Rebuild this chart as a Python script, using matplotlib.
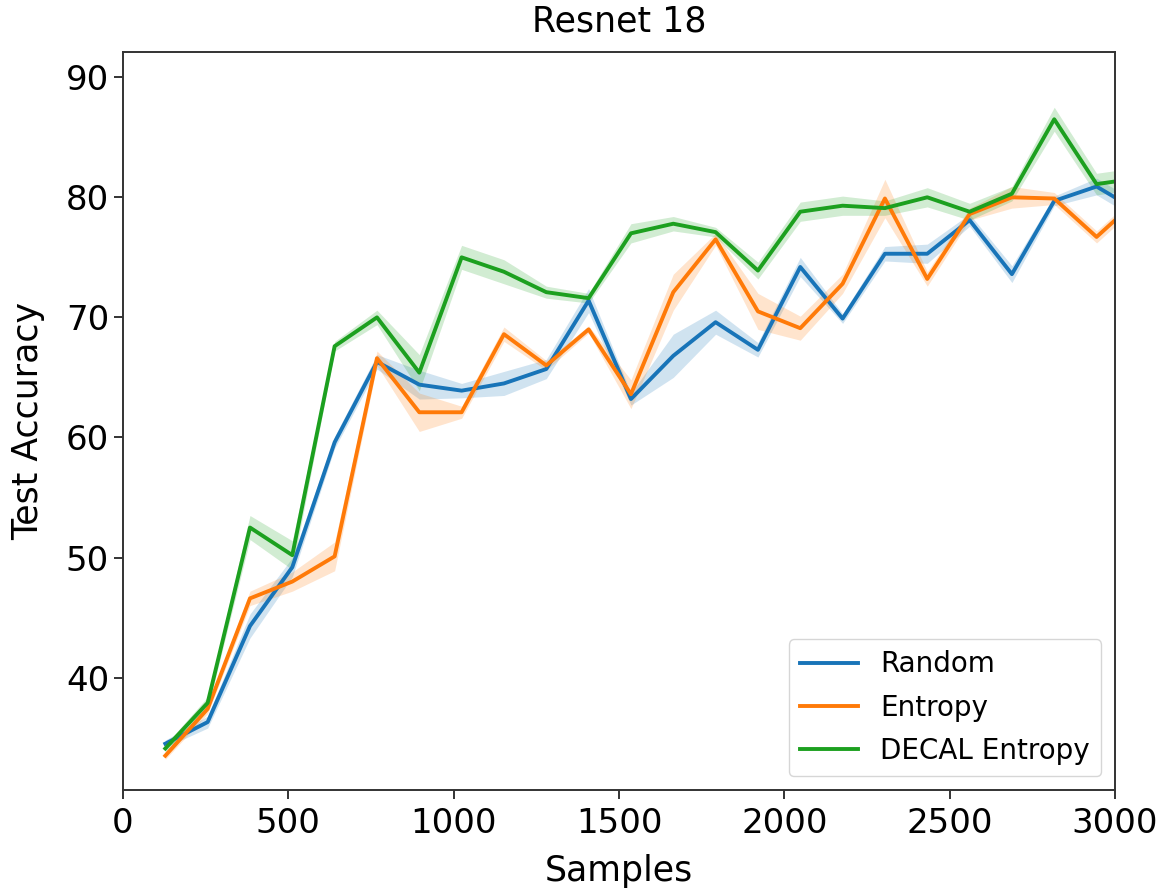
import matplotlib
matplotlib.use("Agg")
import matplotlib.pyplot as plt
import numpy as np

samples = [128, 256, 384, 512, 640, 768, 896, 1024, 1152, 1280, 1408, 1536,
           1664, 1792, 1920, 2048, 2176, 2304, 2432, 2560, 2688, 2816, 2944, 3072]

random_mean = [34.5, 36.3, 44.3, 49.2, 59.6, 66.3, 64.4, 63.9, 64.5, 65.7, 71.4, 63.2,
               66.8, 69.6, 67.3, 74.2, 69.9, 75.3, 75.3, 78.1, 73.6, 79.7, 80.9, 78.8]
random_err = [0.3, 0.5, 1.0, 0.8, 0.5, 0.6, 1.2, 0.6, 1.0, 0.8, 1.0, 0.5,
              1.8, 1.0, 0.6, 0.8, 0.4, 0.6, 0.8, 0.5, 0.7, 0.4, 0.7, 0.7]

entropy_mean = [33.5, 37.4, 46.6, 48.0, 50.1, 66.6, 62.1, 62.1, 68.6, 66.0, 69.0, 63.6,
                72.1, 76.5, 70.5, 69.1, 72.8, 79.9, 73.2, 78.6, 80.0, 79.9, 76.7, 79.9]
entropy_err = [0.3, 0.4, 0.6, 0.8, 1.2, 0.6, 1.6, 0.5, 0.6, 0.4, 0.3, 1.2,
               1.5, 0.5, 1.5, 1.0, 0.8, 1.6, 0.6, 0.5, 0.9, 0.5, 0.5, 0.5]

decal_mean = [34.1, 37.9, 52.5, 50.2, 67.6, 70.0, 65.4, 75.0, 73.8, 72.1, 71.6, 77.0,
              77.8, 77.1, 73.9, 78.8, 79.3, 79.1, 80.0, 78.8, 80.3, 86.5, 81.1, 81.6]
decal_err = [0.3, 0.5, 1.0, 1.2, 0.4, 0.6, 1.5, 1.0, 1.0, 0.5, 0.4, 0.8,
             0.6, 0.4, 0.7, 0.8, 0.8, 0.6, 0.8, 0.7, 0.6, 1.0, 0.9, 0.9]

series = [("Random", random_mean, random_err, "#1874b8"),
          ("Entropy", entropy_mean, entropy_err, "#ff7a08"),
          ("DECAL Entropy", decal_mean, decal_err, "#1ca01f")]

fig = plt.figure(figsize=(11.68, 8.92), dpi=100)
ax = fig.add_axes([0.1053, 0.1143, 0.8494, 0.8274])

x = np.array(samples)
for name, m, e, c in series:
    m = np.array(m); e = np.array(e)
    ax.fill_between(x, m - e, m + e, color=c, alpha=0.2, linewidth=0)
    ax.plot(x, m, color=c, linewidth=2.8, label=name)

ax.set_xlim(0, 3000)
ax.set_ylim(30.64, 92.1)
ax.set_yticks([40, 50, 60, 70, 80, 90])
ax.set_xticks([0, 500, 1000, 1500, 2000, 2500, 3000])
ax.tick_params(labelsize=24.5, length=6.5, width=1.4, color="#333333")
ax.tick_params(axis="x", pad=5.5)
for s in ax.spines.values():
    s.set_linewidth(1.4)
    s.set_color("#333333")
ax.set_xlabel("Samples", fontsize=25, labelpad=10.5)
ax.set_ylabel("Test Accuracy", fontsize=25, labelpad=15)
ax.set_title("Resnet 18", fontsize=25, pad=15)
ax.legend(loc="lower right", fontsize=20, handlelength=2.1, labelspacing=0.55)

fig.savefig("out.png", dpi=100)
